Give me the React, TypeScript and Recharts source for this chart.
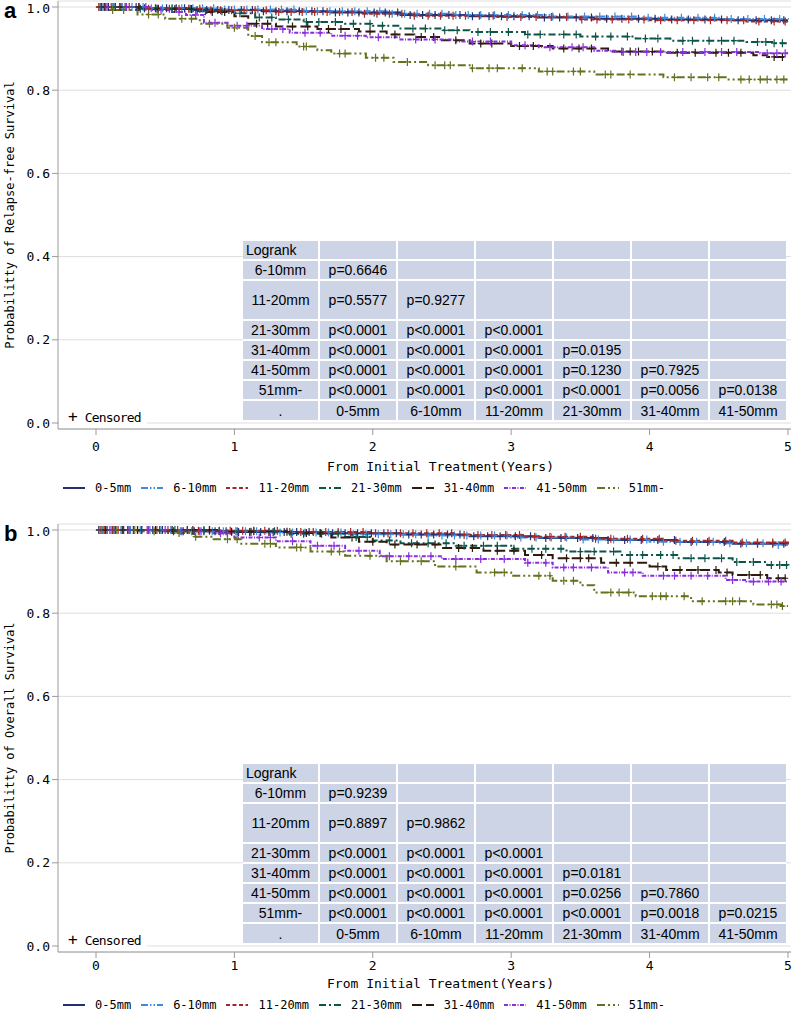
import { LineChart, Line, XAxis, YAxis, CartesianGrid } from "recharts";

const groups = ["0-5mm", "6-10mm", "11-20mm", "21-30mm", "31-40mm", "41-50mm", "51mm-"];
const colors = ["#25306E", "#3D8BE0", "#A3282A", "#0E5549", "#2E1B0C", "#8A2DE0", "#66701E"];
const dashes = ["", "7 2 1.5 2 1.5 2", "4 2.5", "7 3 2 3", "10 4", "4 1.5 1 1.5", "8 3 2 3 2 3"];

const xTicks = [0, 1, 2, 3, 4, 5];
const yTicks = [0, 0.2, 0.4, 0.6, 0.8, 1.0];

// panel a: relapse-free survival, [years, probability] at each drop
const rfs05 = [[0, 1], [0.3, 0.997], [0.7, 0.993], [1.2, 0.99], [1.7, 0.987], [2.2, 0.981], [2.7, 0.978], [3.2, 0.975], [3.6, 0.972], [4.1, 0.97], [4.6, 0.968], [5, 0.968]];
const rfs610 = [[0, 1], [0.4, 0.997], [0.9, 0.994], [1.5, 0.99], [2.1, 0.984], [2.6, 0.981], [3.3, 0.977], [3.9, 0.974], [4.5, 0.971], [5, 0.97]];
const rfs1120 = [[0, 1], [0.35, 0.996], [0.8, 0.992], [1.3, 0.988], [1.9, 0.984], [2.3, 0.979], [2.9, 0.976], [3.5, 0.97], [4.0, 0.968], [4.7, 0.965], [5, 0.965]];
const rfs2130 = [[0, 1], [0.3, 0.996], [0.7, 0.99], [1.0, 0.985], [1.15, 0.975], [1.3, 0.97], [1.5, 0.964], [1.8, 0.96], [2.0, 0.955], [2.2, 0.948], [2.5, 0.944], [2.7, 0.94], [3.1, 0.934], [3.5, 0.929], [3.9, 0.924], [4.15, 0.919], [4.7, 0.916], [4.9, 0.913], [5, 0.913]];
const rfs3140 = [[0, 1], [0.4, 0.995], [0.8, 0.988], [1.0, 0.978], [1.1, 0.96], [1.3, 0.953], [1.6, 0.947], [1.9, 0.941], [2.1, 0.934], [2.3, 0.928], [2.5, 0.92], [2.7, 0.912], [3.0, 0.906], [3.3, 0.9], [3.7, 0.893], [4.1, 0.89], [4.75, 0.884], [4.85, 0.88], [5, 0.88]];
const rfs4150 = [[0, 1], [0.4, 0.993], [0.55, 0.988], [0.65, 0.981], [0.78, 0.962], [0.95, 0.955], [1.2, 0.947], [1.4, 0.938], [1.7, 0.931], [1.95, 0.927], [2.2, 0.922], [2.6, 0.917], [3.0, 0.908], [3.2, 0.903], [3.6, 0.895], [3.75, 0.892], [4.8, 0.889], [5, 0.889]];
const rfs51 = [[0, 1], [0.1, 0.993], [0.3, 0.982], [0.5, 0.972], [0.75, 0.96], [0.95, 0.95], [1.1, 0.93], [1.2, 0.915], [1.45, 0.905], [1.6, 0.896], [1.7, 0.888], [1.95, 0.878], [2.15, 0.868], [2.4, 0.86], [2.7, 0.853], [3.2, 0.845], [3.6, 0.838], [4.1, 0.831], [4.55, 0.826], [5, 0.826]];

// panel a: censoring times
const cRfs05 = [0.03, 0.09, 0.14, 0.22, 0.29, 0.35, 0.43, 0.51, 0.58, 0.64, 0.73, 0.8, 0.88, 0.96, 1.05, 1.13, 1.21, 1.3, 1.38, 1.47, 1.56, 1.64, 1.73, 1.82, 1.9, 2.01, 2.09, 2.18, 2.27, 2.36, 2.45, 2.55, 2.63, 2.72, 2.84, 2.93, 3.02, 3.13, 3.24, 3.35, 3.47, 3.58, 3.69, 3.8, 3.92, 4.04, 4.16, 4.28, 4.4, 4.52, 4.64, 4.77, 4.88, 4.97];
const cRfs610 = [0.05, 0.12, 0.19, 0.26, 0.34, 0.4, 0.48, 0.55, 0.62, 0.7, 0.77, 0.85, 0.93, 1.0, 1.09, 1.17, 1.26, 1.34, 1.43, 1.52, 1.6, 1.69, 1.78, 1.87, 1.96, 2.05, 2.14, 2.23, 2.32, 2.41, 2.5, 2.6, 2.69, 2.78, 2.88, 2.98, 3.08, 3.19, 3.3, 3.41, 3.53, 3.64, 3.75, 3.87, 3.99, 4.11, 4.23, 4.35, 4.47, 4.59, 4.71, 4.83, 4.94];
const cRfs1120 = [0.02, 0.07, 0.11, 0.17, 0.24, 0.31, 0.38, 0.45, 0.53, 0.6, 0.67, 0.75, 0.83, 0.9, 0.98, 1.07, 1.15, 1.23, 1.32, 1.41, 1.49, 1.58, 1.67, 1.76, 1.85, 1.94, 2.03, 2.12, 2.21, 2.3, 2.4, 2.49, 2.58, 2.67, 2.77, 2.87, 2.97, 3.07, 3.18, 3.29, 3.4, 3.51, 3.62, 3.73, 3.85, 3.96, 4.08, 4.2, 4.32, 4.44, 4.56, 4.68, 4.79, 4.9, 4.98];
const cRfs2130 = [0.04, 0.13, 0.21, 0.32, 0.44, 0.55, 0.68, 0.79, 0.91, 1.04, 1.18, 1.27, 1.39, 1.52, 1.61, 1.73, 1.86, 1.98, 2.07, 2.29, 2.38, 2.52, 2.61, 2.76, 2.85, 2.98, 3.12, 3.21, 3.38, 3.47, 3.61, 3.72, 3.84, 3.97, 4.06, 4.24, 4.31, 4.43, 4.52, 4.61, 4.78, 4.84, 4.9, 4.96];
const cRfs3140 = [0.06, 0.18, 0.31, 0.45, 0.57, 0.69, 0.84, 0.93, 1.16, 1.24, 1.42, 1.53, 1.68, 1.77, 1.98, 2.16, 2.35, 2.44, 2.6, 2.78, 2.86, 3.06, 3.16, 3.38, 3.49, 3.58, 3.8, 3.86, 3.92, 4.02, 4.2, 4.33, 4.48, 4.57, 4.66, 4.9, 4.96];
const cRfs4150 = [0.08, 0.22, 0.36, 0.47, 0.6, 0.72, 0.86, 1.02, 1.09, 1.27, 1.35, 1.51, 1.62, 1.8, 1.89, 2.04, 2.31, 2.45, 2.72, 2.85, 3.1, 3.28, 3.44, 3.52, 3.81, 3.9, 3.98, 4.08, 4.24, 4.4, 4.52, 4.63, 4.85, 4.92, 4.98];
const cRfs51 = [0.12, 0.2, 0.38, 0.45, 0.62, 0.69, 0.82, 1.0, 1.15, 1.25, 1.3, 1.5, 1.52, 1.76, 1.8, 2.02, 2.08, 2.25, 2.45, 2.52, 2.56, 2.72, 2.84, 2.9, 3.08, 3.26, 3.3, 3.45, 3.5, 3.68, 3.72, 3.86, 4.18, 4.3, 4.42, 4.5, 4.66, 4.72, 4.8, 4.85, 4.92, 4.97];

// panel b: overall survival
const os05 = [[0, 1], [0.5, 0.997], [1.0, 0.995], [1.6, 0.992], [2.2, 0.989], [2.7, 0.985], [3.2, 0.981], [3.7, 0.976], [4.2, 0.971], [4.6, 0.967], [5, 0.965]];
const os610 = [[0, 1], [0.6, 0.997], [1.2, 0.994], [1.8, 0.99], [2.4, 0.987], [3.0, 0.982], [3.5, 0.977], [4.0, 0.972], [4.5, 0.968], [4.9, 0.964], [5, 0.964]];
const os1120 = [[0, 1], [0.7, 0.998], [1.4, 0.995], [2.0, 0.992], [2.6, 0.988], [3.1, 0.984], [3.6, 0.979], [4.1, 0.974], [4.6, 0.97], [5, 0.966]];
const os2130 = [[0, 1], [0.8, 0.997], [1.4, 0.991], [1.8, 0.983], [2.0, 0.975], [2.2, 0.968], [2.6, 0.962], [3.0, 0.955], [3.4, 0.948], [3.8, 0.94], [4.2, 0.932], [4.6, 0.923], [4.85, 0.916], [5, 0.913]];
const os3140 = [[0, 1], [0.9, 0.996], [1.4, 0.993], [1.7, 0.982], [1.9, 0.972], [2.1, 0.965], [2.5, 0.957], [2.8, 0.95], [3.1, 0.94], [3.3, 0.932], [3.65, 0.921], [4.0, 0.912], [4.12, 0.904], [4.5, 0.898], [4.6, 0.892], [4.85, 0.884], [5, 0.88]];
const os4150 = [[0, 1], [0.6, 0.997], [0.85, 0.992], [1.0, 0.982], [1.3, 0.973], [1.55, 0.962], [1.8, 0.95], [2.05, 0.937], [2.5, 0.93], [3.1, 0.921], [3.3, 0.91], [3.7, 0.898], [3.95, 0.89], [4.55, 0.88], [4.7, 0.876], [5, 0.875]];
const os51 = [[0, 1], [0.3, 0.997], [0.5, 0.993], [0.7, 0.984], [0.85, 0.978], [1.05, 0.967], [1.3, 0.958], [1.55, 0.948], [1.8, 0.938], [2.1, 0.925], [2.45, 0.912], [2.75, 0.898], [3.0, 0.89], [3.3, 0.878], [3.5, 0.867], [3.6, 0.85], [3.9, 0.841], [4.3, 0.829], [4.75, 0.821], [4.95, 0.817], [5, 0.817]];

const cOs05 = [0.02, 0.08, 0.13, 0.2, 0.27, 0.33, 0.41, 0.48, 0.56, 0.63, 0.71, 0.78, 0.86, 0.94, 1.03, 1.11, 1.19, 1.28, 1.36, 1.45, 1.54, 1.62, 1.71, 1.8, 1.89, 1.99, 2.08, 2.17, 2.26, 2.35, 2.44, 2.54, 2.63, 2.73, 2.83, 2.92, 3.03, 3.14, 3.25, 3.36, 3.48, 3.59, 3.7, 3.82, 3.94, 4.06, 4.18, 4.3, 4.42, 4.54, 4.66, 4.78, 4.89, 4.97];
const cOs610 = [0.04, 0.11, 0.18, 0.25, 0.32, 0.39, 0.47, 0.54, 0.61, 0.69, 0.76, 0.84, 0.92, 1.01, 1.08, 1.16, 1.25, 1.33, 1.42, 1.51, 1.59, 1.68, 1.77, 1.86, 1.95, 2.04, 2.13, 2.22, 2.31, 2.4, 2.5, 2.59, 2.68, 2.78, 2.88, 2.97, 3.07, 3.18, 3.29, 3.4, 3.52, 3.63, 3.74, 3.86, 3.98, 4.1, 4.22, 4.34, 4.46, 4.58, 4.7, 4.82, 4.93];
const cOs1120 = [0.03, 0.06, 0.12, 0.16, 0.23, 0.3, 0.37, 0.44, 0.52, 0.59, 0.66, 0.74, 0.82, 0.89, 0.97, 1.06, 1.14, 1.22, 1.31, 1.4, 1.48, 1.57, 1.66, 1.75, 1.84, 1.93, 2.02, 2.11, 2.2, 2.29, 2.39, 2.48, 2.57, 2.66, 2.76, 2.86, 2.96, 3.06, 3.17, 3.28, 3.39, 3.5, 3.61, 3.72, 3.84, 3.95, 4.07, 4.19, 4.31, 4.43, 4.55, 4.67, 4.78, 4.89, 4.98];
const cOs2130 = [0.05, 0.14, 0.23, 0.33, 0.46, 0.57, 0.66, 0.78, 0.89, 1.02, 1.14, 1.29, 1.41, 1.5, 1.63, 1.75, 1.88, 1.96, 2.12, 2.28, 2.4, 2.53, 2.66, 2.8, 2.9, 3.02, 3.15, 3.25, 3.36, 3.5, 3.6, 3.74, 3.86, 3.95, 4.08, 4.17, 4.3, 4.4, 4.52, 4.63, 4.75, 4.88, 4.94, 4.99];
const cOs3140 = [0.07, 0.19, 0.3, 0.43, 0.55, 0.7, 0.82, 0.98, 1.12, 1.25, 1.38, 1.52, 1.62, 1.85, 2.0, 2.16, 2.32, 2.45, 2.62, 2.72, 2.9, 3.02, 3.22, 3.4, 3.5, 3.56, 3.76, 3.86, 4.06, 4.22, 4.35, 4.48, 4.56, 4.72, 4.8, 4.93, 4.98];
const cOs4150 = [0.1, 0.24, 0.38, 0.5, 0.62, 0.75, 0.9, 0.95, 1.18, 1.26, 1.42, 1.6, 1.72, 1.9, 2.12, 2.26, 2.42, 2.6, 2.78, 2.95, 3.12, 3.25, 3.38, 3.45, 3.58, 3.82, 3.88, 4.1, 4.18, 4.3, 4.42, 4.6, 4.75, 4.86, 4.95];
const cOs51 = [0.15, 0.28, 0.42, 0.6, 0.72, 0.95, 1.02, 1.22, 1.26, 1.45, 1.48, 1.7, 1.76, 1.98, 2.2, 2.35, 2.6, 2.88, 2.95, 3.2, 3.28, 3.38, 3.45, 3.72, 3.78, 3.85, 4.02, 4.08, 4.12, 4.25, 4.38, 4.55, 4.6, 4.65, 4.88, 4.92, 4.96];

// logrank table (row group vs column group)
const rowLabels = ["6-10mm", "11-20mm", "21-30mm", "31-40mm", "41-50mm", "51mm-"];
const rfsPvals = [
  ["p=0.6646"],
  ["p=0.5577", "p=0.9277"],
  ["p<0.0001", "p<0.0001", "p<0.0001"],
  ["p<0.0001", "p<0.0001", "p<0.0001", "p=0.0195"],
  ["p<0.0001", "p<0.0001", "p<0.0001", "p=0.1230", "p=0.7925"],
  ["p<0.0001", "p<0.0001", "p<0.0001", "p<0.0001", "p=0.0056", "p=0.0138"],
];
const osPvals = [
  ["p=0.9239"],
  ["p=0.8897", "p=0.9862"],
  ["p<0.0001", "p<0.0001", "p<0.0001"],
  ["p<0.0001", "p<0.0001", "p<0.0001", "p=0.0181"],
  ["p<0.0001", "p<0.0001", "p<0.0001", "p=0.0256", "p=0.7860"],
  ["p<0.0001", "p<0.0001", "p<0.0001", "p<0.0001", "p=0.0018", "p=0.0215"],
];

const mono = '"DejaVu Sans Mono", "Liberation Mono", monospace';
const sans = '"Liberation Sans", Arial, sans-serif';
const cellBg = "#CDD4E5";

function buildData(steps: number[][], cens: number[]) {
  const pts = steps.map(([t, s]) => ({ t, s, cen: false }));
  cens.forEach((t) => {
    let s = steps[0][1];
    for (const [st, sv] of steps) if (st <= t) s = sv;
    pts.push({ t, s, cen: true });
  });
  return pts.sort((a, b) => a.t - b.t);
}

const censorDot = (color: string) => (p: any) => {
  const { cx, cy, payload, index } = p;
  if (!payload || !payload.cen || cx == null) return <g key={`n${index}`} />;
  return (
    <path
      key={`c${index}`}
      d={`M${cx - 3},${cy}h6M${cx},${cy - 4}v8`}
      stroke={color}
      strokeWidth={1.2}
      fill="none"
    />
  );
};

function LogrankTable({ pvals }: { pvals: string[][] }) {
  const cells: any[] = [];
  const cell = (key: string, text: string, left = false) => (
    <div
      key={key}
      style={{
        background: cellBg,
        display: "flex",
        alignItems: "center",
        justifyContent: left ? "flex-start" : "center",
        paddingLeft: left ? 3 : 0,
      }}
    >
      {text}
    </div>
  );
  cells.push(cell("h", "Logrank", true));
  for (let j = 0; j < 6; j++) cells.push(cell(`h${j}`, ""));
  rowLabels.forEach((r, i) => {
    cells.push(cell(`r${i}`, r));
    for (let j = 0; j < 6; j++) cells.push(cell(`r${i}-${j}`, pvals[i][j] || ""));
  });
  cells.push(cell("f", "."));
  groups.slice(0, 6).forEach((g, j) => cells.push(cell(`f${j}`, g)));
  return (
    <div
      style={{
        position: "absolute",
        left: 243,
        top: 241,
        display: "grid",
        gridTemplateColumns: "75px repeat(6, 76px)",
        gridTemplateRows: "18px 18px 38px 18px 18px 18px 18px 19px",
        columnGap: 2,
        rowGap: 2,
        background: "#fff",
        fontFamily: sans,
        fontSize: 14,
        color: "#000",
      }}
    >
      {cells}
    </div>
  );
}

function Legend() {
  return (
    <div style={{ display: "flex", alignItems: "center", fontFamily: mono, fontSize: 12 }}>
      {groups.map((g, i) => (
        <div key={g} style={{ display: "flex", alignItems: "center", marginRight: 10 }}>
          <svg width={22} height={4} style={{ marginRight: 10 }}>
            <line x1={0} y1={2} x2={22} y2={2} stroke={colors[i]} strokeWidth={2} strokeDasharray={dashes[i]} />
          </svg>
          <span>{g}</span>
        </div>
      ))}
    </div>
  );
}

type PanelProps = {
  top: number;
  letter: string;
  yTitle: string;
  series: number[][][];
  cens: number[][];
  pvals: string[][];
  tickGap: number;
  titleY: number;
  legendY: number;
};

function Panel({ top, letter, yTitle, series, cens, pvals, tickGap, titleY, legendY }: PanelProps) {
  const axisFont = { fill: "#000", fontSize: 13, fontFamily: mono };
  const xDomain = [-0.2746, 5.022];
  const yDomain = [-0.0144, 1.0144];
  return (
    <div style={{ position: "absolute", left: 0, top, width: 797, height: 500 }}>
      <LineChart width={797} height={470} margin={{ top: 1, right: 6, bottom: 0, left: 0 }}>
        <CartesianGrid horizontal vertical={false} stroke="#DEDEDE" />
        <XAxis
          type="number"
          dataKey="t"
          domain={xDomain}
          ticks={xTicks}
          allowDataOverflow
          height={41}
          tickSize={6}
          tickMargin={tickGap}
          stroke="#9A9A9A"
          tick={axisFont}
        />
        <XAxis xAxisId="top" orientation="top" type="number" domain={xDomain} height={0} tick={false} tickLine={false} stroke="#9A9A9A" />
        <YAxis
          type="number"
          domain={yDomain}
          ticks={yTicks}
          allowDataOverflow
          width={58}
          tickSize={6}
          tickMargin={2}
          stroke="#9A9A9A"
          tick={axisFont}
          tickFormatter={(v: number) => v.toFixed(1)}
          label={{ value: yTitle, angle: -90, position: "center", dx: -19, style: { fontFamily: mono, fontSize: 12, fill: "#000" } }}
        />
        <YAxis yAxisId="right" orientation="right" type="number" domain={yDomain} width={0} tick={false} tickLine={false} stroke="#9A9A9A" />
        {series.map((steps, i) => (
          <Line
            key={groups[i]}
            data={buildData(steps, cens[i])}
            dataKey="s"
            type="stepAfter"
            stroke={colors[i]}
            strokeWidth={2}
            strokeDasharray={dashes[i]}
            dot={censorDot(colors[i])}
            activeDot={false}
            isAnimationActive={false}
          />
        ))}
      </LineChart>
      <LogrankTable pvals={pvals} />
      <div
        style={{
          position: "absolute",
          left: 59,
          top: 408,
          width: 88,
          height: 17,
          background: "#fff",
          fontFamily: mono,
          fontSize: 13,
          lineHeight: "17px",
          whiteSpace: "pre",
        }}
      >
        <span style={{ marginLeft: 9, marginRight: 7, fontSize: 16 }}>+</span>
        <span style={{ letterSpacing: -0.8 }}>Censored</span>
      </div>
      <div style={{ position: "absolute", left: 4, top: -2, fontFamily: sans, fontWeight: "bold", fontSize: 22 }}>
        {letter}
      </div>
      <div
        style={{
          position: "absolute",
          left: 327,
          top: titleY - 8,
          fontFamily: mono,
          fontSize: 13,
          lineHeight: "16px",
          whiteSpace: "pre",
        }}
      >
        From Initial Treatment(Years)
      </div>
      <div style={{ position: "absolute", left: 63, top: legendY - 8 }}>
        <Legend />
      </div>
    </div>
  );
}

export default function App() {
  return (
    <div style={{ position: "absolute", left: 0, top: 0, width: 797, height: 1017, background: "#fff" }}>
      <Panel
        top={0}
        letter="a"
        yTitle="Probabilitty of Relapse-free Survival"
        series={[rfs05, rfs610, rfs1120, rfs2130, rfs3140, rfs4150, rfs51]}
        cens={[cRfs05, cRfs610, cRfs1120, cRfs2130, cRfs3140, cRfs4150, cRfs51]}
        pvals={rfsPvals}
        tickGap={7}
        titleY={467}
        legendY={489}
      />
      <Panel
        top={523}
        letter="b"
        yTitle="Probabilitty of Overall Survival"
        series={[os05, os610, os1120, os2130, os3140, os4150, os51]}
        cens={[cOs05, cOs610, cOs1120, cOs2130, cOs3140, cOs4150, cOs51]}
        pvals={osPvals}
        tickGap={3}
        titleY={461}
        legendY={483}
      />
    </div>
  );
}
